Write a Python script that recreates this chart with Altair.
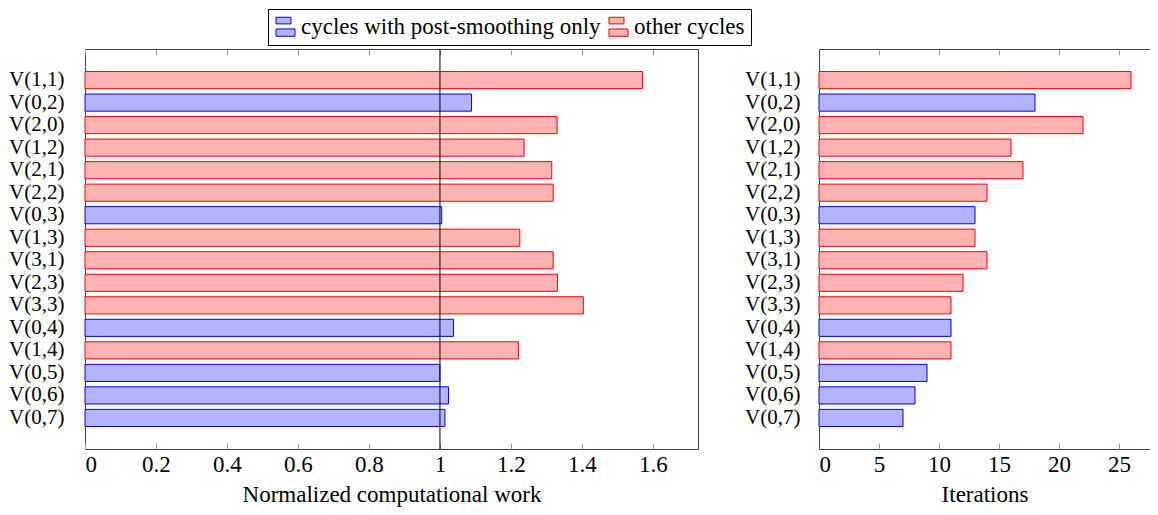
import altair as alt
import pandas as pd

# ---------------- data ----------------
cycles = ["V(1,1)", "V(0,2)", "V(2,0)", "V(1,2)", "V(2,1)", "V(2,2)", "V(0,3)", "V(1,3)",
          "V(3,1)", "V(2,3)", "V(3,3)", "V(0,4)", "V(1,4)", "V(0,5)", "V(0,6)", "V(0,7)"]
work = [1.571, 1.089, 1.330, 1.237, 1.315, 1.319, 1.005, 1.225,
        1.319, 1.331, 1.404, 1.038, 1.221, 1.000, 1.024, 1.014]
iters = [26, 18, 22, 16, 17, 14, 13, 13, 14, 12, 11, 11, 11, 9, 8, 7]
post_only = ["V(0,2)", "V(0,3)", "V(0,4)", "V(0,5)", "V(0,6)", "V(0,7)"]
group_names = ["cycles with post-smoothing only", "other cycles"]
fill_colors = ["#b3b3ff", "#ffb3b3"]
stroke_colors = ["#0000ff", "#ff0000"]
work_ticks = [0, 0.2, 0.4, 0.6, 0.8, 1.0, 1.2, 1.4, 1.6]
iter_ticks = [0, 5, 10, 15, 20, 25]
reference_work = [1.0]

df = pd.DataFrame({
    "cycle": cycles,
    "work": work,
    "iters": iters,
    "group": [group_names[0] if c in post_only else group_names[1] for c in cycles],
})
ref_df = pd.DataFrame({"ref": reference_work})
it_df = pd.DataFrame({"t": iter_ticks})

FONT = "Liberation Serif"
FS = 23
FSY = 21
H = 400
LEFT_W = 613
RIGHT_W = 331
TICK_C = "#9a9a9a"
DOM_C = "#444444"

SYMBOL = "M-1,-1H0.58V-0.3H-1Z M-1,0.23H1V1H-1Z"

def y_enc(pad, domain):
    return alt.Y(
        "cycle:N", sort=cycles, title=None,
        scale=alt.Scale(paddingInner=0.24, paddingOuter=1.0),
        axis=alt.Axis(domain=domain, domainColor=DOM_C, ticks=False, labelPadding=pad,
                      labelFont=FONT, labelFontSize=FSY, labelColor="black"),
    )

fill = alt.Fill("group:N", scale=alt.Scale(domain=group_names, range=fill_colors),
                legend=alt.Legend(title=None, labelFont=FONT, labelFontSize=FS))
stroke = alt.Stroke("group:N", scale=alt.Scale(domain=group_names, range=stroke_colors),
                    legend=alt.Legend(title=None, labelFont=FONT, labelFontSize=FS))

common_axis = dict(labelFont=FONT, labelFontSize=FS, labelColor="black",
                   titleFont=FONT, titleFontSize=FS, titleFontWeight="normal",
                   titleColor="black", grid=False)

tick_only = dict(domain=False, ticks=True, tickSize=6, tickColor=TICK_C, offset=-6)

# ---------------- left chart ----------------
xs_left = alt.Scale(domain=[0, 1.727], nice=False, zero=True)

left_bars = alt.Chart(df).mark_bar(strokeWidth=1).encode(
    x=alt.X("work:Q", scale=xs_left, title="Normalized computational work",
            axis=alt.Axis(values=work_ticks, format="~g", orient="bottom",
                          labelPadding=4, titlePadding=7, **tick_only, **common_axis)),
    y=y_enc(21, False), fill=fill, stroke=stroke,
)
left_rule = alt.Chart(ref_df).mark_rule(color="black", strokeWidth=1).encode(
    x=alt.X("ref:Q", scale=xs_left, title=None,
            axis=alt.Axis(values=work_ticks, orient="top", labels=False, **tick_only, **common_axis)),
)
left = alt.layer(left_bars, left_rule).resolve_axis(x="independent").properties(
    width=LEFT_W, height=H, view=alt.ViewBackground(stroke=DOM_C, strokeWidth=1)
)

# ---------------- right chart ----------------
xs_right = alt.Scale(domain=[0, RIGHT_W / 12.0], nice=False, zero=True)

right_bars = alt.Chart(df).mark_bar(strokeWidth=1).encode(
    x=alt.X("iters:Q", scale=xs_right, title="Iterations",
            axis=alt.Axis(values=iter_ticks, orient="bottom", domain=True, domainColor=DOM_C,
                          ticks=False, labelPadding=4, titlePadding=7, **common_axis)),
    y=y_enc(19, True), fill=fill, stroke=stroke,
)
right_bottom_ticks = alt.Chart(it_df).mark_rule(opacity=0).encode(
    x=alt.X("t:Q", scale=xs_right, title=None,
            axis=alt.Axis(values=iter_ticks, orient="bottom", labels=False, **tick_only, **common_axis)),
)
right_top_line = alt.Chart(it_df).mark_rule(opacity=0).encode(
    x=alt.X("t:Q", scale=xs_right, title=None,
            axis=alt.Axis(values=iter_ticks, orient="top", labels=False, ticks=False,
                          domain=True, domainColor=DOM_C, **common_axis)),
)
right_top_ticks = alt.Chart(it_df).mark_rule(opacity=0).encode(
    x=alt.X("t:Q", scale=xs_right, title=None,
            axis=alt.Axis(values=iter_ticks, orient="top", labels=False, **tick_only, **common_axis)),
)
right = alt.layer(right_bars, right_bottom_ticks, right_top_line, right_top_ticks).resolve_axis(
    x="independent").properties(width=RIGHT_W, height=H)

chart = alt.hconcat(left, right, spacing=45).properties(
    padding={"left": 0, "top": 0, "right": 0, "bottom": 0}
).configure(font=FONT).configure_view(stroke=None).configure_axis(
    labelFont=FONT, titleFont=FONT
).configure_legend(
    orient="none", legendX=183, legendY=-40, direction="horizontal",
    strokeColor="black", fillColor="white", padding=6, cornerRadius=0,
    labelFont=FONT, labelFontSize=FS, labelColor="black", labelLimit=0,
    symbolType=SYMBOL, symbolSize=361, symbolStrokeWidth=1, symbolOpacity=1,
    columnPadding=6, labelOffset=4,
)

chart.save("out.html", embed_options={"renderer": "svg", "actions": False})
